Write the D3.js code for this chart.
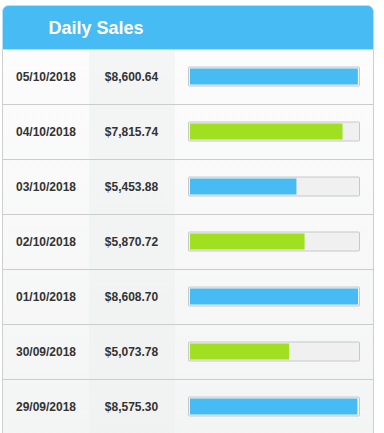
<!DOCTYPE html>
<html>
<head>
<meta charset="utf-8">
<script src="https://cdn.jsdelivr.net/npm/d3@7"></script>
<style>
  html, body { margin: 0; padding: 0; background: #fff; }
  #chart svg { display: block; }
</style>
</head>
<body>
<div id="chart"></div>
<script>
const title = 'Daily Sales';
const dates = ['05/10/2018', '04/10/2018', '03/10/2018', '02/10/2018', '01/10/2018', '30/09/2018', '29/09/2018'];
const sales = [8600.64, 7815.74, 5453.88, 5870.72, 8608.70, 5073.78, 8575.30];
const barColors = ['#47bbf3', '#a0e020'];

const WIDTH = 384, HEIGHT = 433;
const cardX = 2.5, cardY = 5.5, cardR = 6;
const cardW = 371, headerH = 44;
const rowH = 55;

const svg = d3.select('#chart').append('svg')
    .attr('width', WIDTH)
    .attr('height', HEIGHT)
    .style('font-family', '"Liberation Sans", Arial, Helvetica, sans-serif');

let defs = svg.append('defs');
let grad = defs.append('linearGradient')
    .attr('id', 'bodyGrad')
    .attr('x1', 0).attr('x2', 0).attr('y1', 0).attr('y2', 1);
grad.append('stop').attr('offset', '0%').attr('stop-color', '#fcfcfc');
grad.append('stop').attr('offset', '100%').attr('stop-color', '#f3f4f4');

let bodyTop = cardY + headerH;
let rows = dates.map((d, i) => ({date: d, value: sales[i], i: i}));

// row positions
let yScale = d3.scaleBand()
    .domain(d3.range(rows.length))
    .range([bodyTop, bodyTop + rowH * rows.length])
    .padding(0);

// bar lengths
let trackX = 188.5, trackW = 171, trackH = 19;
let xScale = d3.scaleLinear()
    .domain([0, d3.max(sales)])
    .range([0, trackW - 3]);

// card body
svg.append('rect')
    .attr('x', cardX)
    .attr('y', bodyTop)
    .attr('width', cardW)
    .attr('height', HEIGHT - bodyTop + 10)
    .attr('fill', 'url(#bodyGrad)')
    .attr('stroke', '#cfcfcf')
    .attr('stroke-width', 1);

// amount column shading
svg.append('rect')
    .attr('x', 89)
    .attr('y', bodyTop)
    .attr('width', 86)
    .attr('height', HEIGHT - bodyTop)
    .attr('fill', '#eef0f0')
    .attr('opacity', 0.6);

// header with rounded top corners
let hp = d3.path();
hp.moveTo(cardX, bodyTop);
hp.lineTo(cardX, cardY + cardR);
hp.arcTo(cardX, cardY, cardX + cardR, cardY, cardR);
hp.lineTo(cardX + cardW - cardR, cardY);
hp.arcTo(cardX + cardW, cardY, cardX + cardW, cardY + cardR, cardR);
hp.lineTo(cardX + cardW, bodyTop);
hp.closePath();
svg.append('path')
    .attr('d', hp.toString())
    .attr('fill', '#47bbf3')
    .attr('stroke', '#b9dff2')
    .attr('stroke-width', 1);

svg.append('text')
    .attr('x', 96)
    .attr('y', 34)
    .attr('text-anchor', 'middle')
    .attr('fill', '#fff')
    .attr('font-weight', 'bold')
    .style('font-size', '18px')
    .text(title);

let rowG = svg.selectAll('g.row')
    .data(rows)
    .join('g')
    .attr('class', 'row')
    .attr('transform', d => `translate(0,${yScale(d.i)})`);

// separators
rowG.filter(d => d.i > 0).append('line')
    .attr('x1', cardX).attr('x2', cardX + cardW)
    .attr('y1', 0).attr('y2', 0)
    .attr('stroke', '#cccccc')
    .attr('stroke-width', 1);

let mid = yScale.bandwidth() / 2;

rowG.append('text')
    .attr('x', 46)
    .attr('y', mid + 4)
    .attr('text-anchor', 'middle')
    .attr('fill', '#333')
    .attr('font-weight', 'bold')
    .style('font-size', '12px')
    .text(d => d.date);

let fmt = d3.format('$,.2f');
rowG.append('text')
    .attr('x', 131.5)
    .attr('y', mid + 4)
    .attr('text-anchor', 'middle')
    .attr('fill', '#333')
    .attr('font-weight', 'bold')
    .style('font-size', '12px')
    .text(d => fmt(d.value));

rowG.append('rect')
    .attr('x', trackX)
    .attr('y', mid - trackH / 2 - 0.5)
    .attr('width', trackW)
    .attr('height', trackH)
    .attr('rx', 1)
    .attr('fill', '#f0f0f0')
    .attr('stroke', '#c8c8c8')
    .attr('stroke-width', 1);

rowG.append('rect')
    .attr('x', trackX + 1.5)
    .attr('y', mid - trackH / 2 + 1)
    .attr('width', d => xScale(d.value))
    .attr('height', trackH - 3)
    .attr('fill', d => barColors[d.i % 2]);
</script>
</body>
</html>
